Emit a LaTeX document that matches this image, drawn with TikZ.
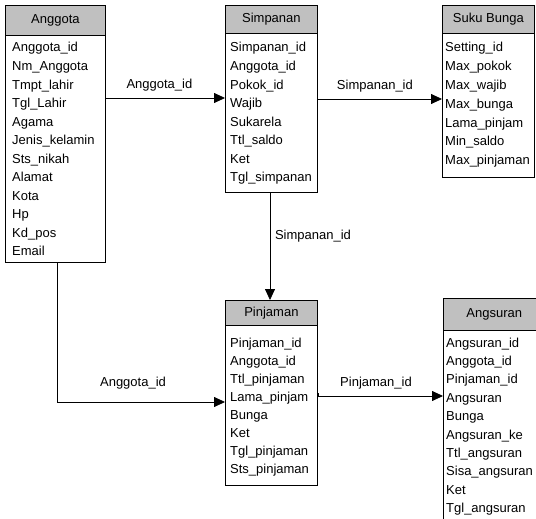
\documentclass[tikz,border=0pt]{standalone}
\usepackage{fontspec}
\setmainfont{Liberation Sans}
\usetikzlibrary{arrows.meta}
\definecolor{hdrgray}{RGB}{192,192,192}
\tikzset{
  tblhead/.style={draw=black, fill=hdrgray, line width=0.8pt, anchor=north west,
    inner sep=0pt, font=\fontsize{13}{15}\selectfont},
  tblbody/.style={draw=black, fill=white, line width=0.8pt, anchor=north west, inner sep=0pt},
  field/.style={anchor=base west, inner sep=0pt, font=\fontsize{13}{15}\selectfont},
  link/.style={line width=0.8pt, -{Triangle[length=11pt,width=10pt]}},
  linklabel/.style={inner sep=0pt, font=\fontsize{13}{15}\selectfont},
}
\begin{document}
\begin{tikzpicture}[x=1pt, y=-1pt]
\useasboundingbox (0,0) rectangle (536,519);
\clip (0,0) rectangle (536,519);

% Anggota
\node[tblbody, minimum width=100pt, minimum height=227pt] (anggotaB) at (5,35) {};
\node[tblhead, minimum width=100pt, minimum height=30pt] (anggota) at (5,5) {Anggota};
\foreach \t [count=\i] in {Anggota\_id, Nm\_Anggota, Tmpt\_lahir, Tgl\_Lahir, Agama,
  Jenis\_kelamin, Sts\_nikah, Alamat, Kota, Hp, Kd\_pos, Email}
  \node[field] (ag\i) at (12, {52+18.5*(\i-1)}) {\t};

% Simpanan
\node[tblbody, minimum width=92pt, minimum height=159pt] (simpananB) at (225,33) {};
\node[tblhead, minimum width=92pt, minimum height=28pt] (simpanan) at (225,5) {Simpanan};
\foreach \t [count=\i] in {Simpanan\_id, Anggota\_id, Pokok\_id, Wajib, Sukarela,
  Ttl\_saldo, Ket, Tgl\_simpanan}
  \node[field] (sp\i) at (230, {52+18.57*(\i-1)}) {\t};

% Suku Bunga
\node[tblbody, minimum width=92pt, minimum height=144pt] (sukuB) at (442,33) {};
\node[tblhead, minimum width=92pt, minimum height=28pt] (suku) at (442,5) {Suku Bunga};
\foreach \t [count=\i] in {Setting\_id, Max\_pokok, Max\_wajib, Max\_bunga,
  Lama\_pinjam, Min\_saldo, Max\_pinjaman}
  \node[field] (sb\i) at (445, {52+18.8*(\i-1)}) {\t};

% Pinjaman
\node[tblbody, minimum width=92pt, minimum height=160pt] (pinjamanB) at (225,325) {};
\node[tblhead, minimum width=92pt, minimum height=25pt] (pinjaman) at (225,300) {Pinjaman};
\foreach \t [count=\i] in {Pinjaman\_id, Anggota\_id, Ttl\_pinjaman, Lama\_pinjam,
  Bunga, Ket, Tgl\_pinjaman, Sts\_pinjaman}
  \node[field] (pj\i) at (230, {347+18.1*(\i-1)}) {\t};

% Angsuran (runs past the right and bottom edges)
\node[tblbody, minimum width=100pt, minimum height=200pt] (angsuranB) at (443,330) {};
\node[tblhead, minimum width=100pt, minimum height=32pt, text width=90pt, align=left]
  (angsuran) at (443,298) {\hspace*{18pt}Angsuran};
\foreach \t [count=\i] in {Angsuran\_id, Anggota\_id, Pinjaman\_id, Angsuran, Bunga,
  Angsuran\_ke, Ttl\_angsuran, Sisa\_angsuran, Ket, Tgl\_angsuran}
  \node[field] (as\i) at (446, {347+18.4*(\i-1)}) {\t};

% Connectors
\coordinate (c1) at (anggotaB.east |- 0,98);
\draw[link] (c1) -- (c1 -| simpananB.west)
  node[linklabel, pos=0.45, above=6pt] (l1) {Anggota\_id};

\coordinate (c2) at (simpananB.east |- 0,99);
\draw[link] (c2) -- (c2 -| sukuB.west)
  node[linklabel, pos=0.46, above=6pt] (l2) {Simpanan\_id};

\coordinate (c3) at (270,192);
\coordinate (c3e) at (270,300);
\draw[link] (c3) -- (c3e);
\node[linklabel] (l3) at (313,236) {Simpanan\_id};

\coordinate (c4) at (57,262);
\coordinate (c4b) at (57,402);
\draw[link] (c4) -- (c4b) -- (c4b -| pinjamanB.west);
\node[linklabel] (l4) at (133,383) {Anggota\_id};

\coordinate (c5) at (pinjamanB.east |- 0,396);
\draw[line width=0.6pt] (c5) -- ++(0,-3);
\draw[link] (c5) -- (c5 -| angsuranB.west);
\node[linklabel] (l5) at (376,383) {Pinjaman\_id};
\end{tikzpicture}
\end{document}
